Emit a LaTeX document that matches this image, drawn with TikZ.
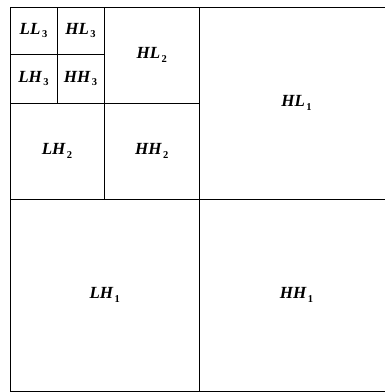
\documentclass[tikz,border=0pt]{standalone}
\usepackage{fontspec}
\setmainfont{Liberation Serif}
\usepackage{tikz}
\usetikzlibrary{positioning}
\tikzset{
  % bloco de sub-banda (largura/altura em px)
  band/.style={rectangle, draw=black, line width=0.9pt, inner sep=0pt},
  lbl/.style={font=\bandfont}
}
\newcommand{\bandfont}{\fontsize{17}{20}\selectfont\bfseries\itshape}
\newcommand{\bandlbl}[2]{#1\kern1.5pt{\fontsize{10.5}{12}\selectfont\upshape\bfseries\raisebox{-3.5pt}{#2}}}

\begin{document}
\begin{tikzpicture}[x=1pt,y=-1pt]
    \useasboundingbox (0,0) rectangle (385,392);

    % nivel 1
    \node[band, minimum width=189.5pt, minimum height=192pt] (ll1) at (104.75,103) {};
    \node[band, minimum width=194pt, minimum height=192pt] (hl1) at (296.5,103) {};
    \node[band, minimum width=189.5pt, minimum height=192pt] (lh1) at (104.75,295) {};
    \node[band, minimum width=194pt, minimum height=192pt] (hh1) at (296.5,295) {};

    % nivel 2
    \node[band, minimum width=94pt, minimum height=96pt] (ll2) at (57,55) {};
    \node[band, minimum width=95.5pt, minimum height=96pt] (hl2) at (151.75,55) {};
    \node[band, minimum width=94pt, minimum height=96pt] (lh2) at (57,151) {};
    \node[band, minimum width=95.5pt, minimum height=96pt] (hh2) at (151.75,151) {};

    % nivel 3
    \node[band, minimum width=47pt, minimum height=47pt] (ll3) at (33.5,30.5) {};
    \node[band, minimum width=47pt, minimum height=47pt] (hl3) at (80.5,30.5) {};
    \node[band, minimum width=47pt, minimum height=49pt] (lh3) at (33.5,78.5) {};
    \node[band, minimum width=47pt, minimum height=49pt] (hh3) at (80.5,78.5) {};

    % rotulos
    \node[lbl] at (ll3) {\bandlbl{LL}{3}};
    \node[lbl] at (hl3) {\bandlbl{HL}{3}};
    \node[lbl] at (lh3) {\bandlbl{LH}{3}};
    \node[lbl] at (hh3) {\bandlbl{HH}{3}};
    \node[lbl] at (hl2) {\bandlbl{HL}{2}};
    \node[lbl] at (lh2) {\bandlbl{LH}{2}};
    \node[lbl] at (hh2) {\bandlbl{HH}{2}};
    \node[lbl] at (hl1) {\bandlbl{HL}{1}};
    \node[lbl] at (lh1) {\bandlbl{LH}{1}};
    \node[lbl] at (hh1) {\bandlbl{HH}{1}};
  \end{tikzpicture}
\end{document}
